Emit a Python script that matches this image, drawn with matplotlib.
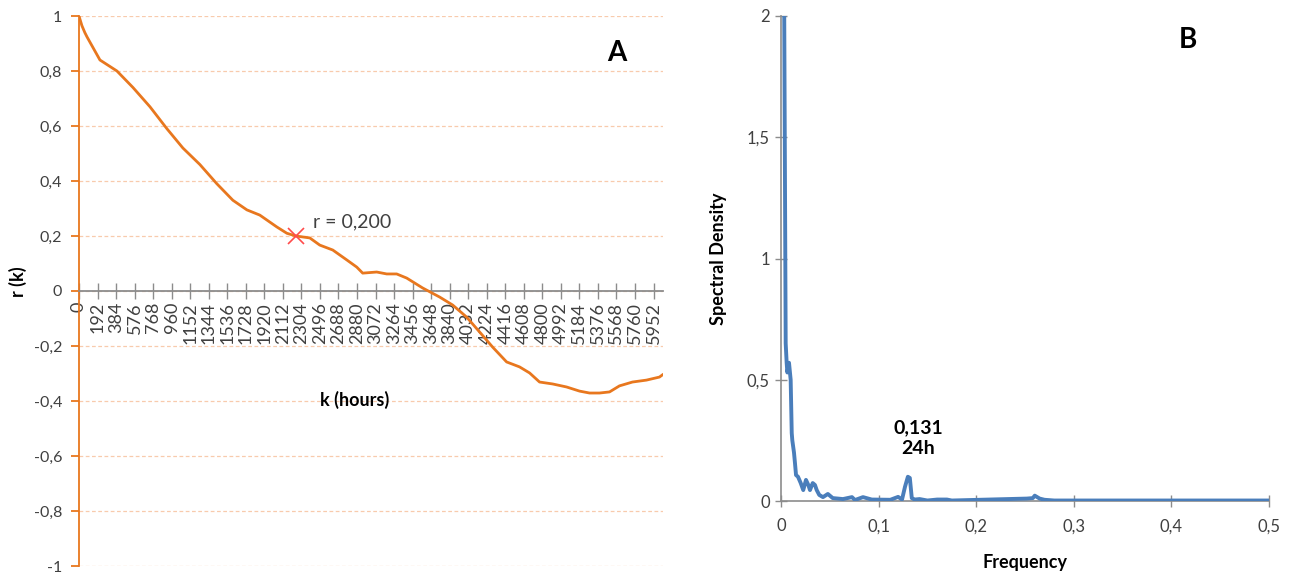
import matplotlib.pyplot as plt
from matplotlib.ticker import FuncFormatter

plt.rcParams["font.family"] = ["Lato", "DejaVu Sans"]

# panel A: autocorrelation r(k)
lag_hours = [0, 30, 60, 83, 217, 393, 559, 735, 911, 1076, 1252, 1428, 1594,
             1739, 1873, 2049, 2153, 2246, 2391, 2494, 2629, 2774, 2877, 2939,
             3084, 3188, 3291, 3395, 3560, 3736, 3871, 4016, 4150, 4285, 4430,
             4564, 4668, 4771, 4906, 5051, 5185, 5289, 5392, 5496, 5599, 5734,
             5879, 6013, 6044]
r_k = [1.0, 0.965, 0.94, 0.924, 0.84, 0.80, 0.74, 0.67, 0.59, 0.52, 0.46,
       0.39, 0.33, 0.295, 0.276, 0.233, 0.21, 0.20, 0.193, 0.167, 0.149, 0.113,
       0.087, 0.065, 0.069, 0.062, 0.062, 0.047, 0.011, -0.022, -0.051, -0.095,
       -0.149, -0.204, -0.258, -0.276, -0.298, -0.331, -0.338, -0.349, -0.364,
       -0.371, -0.371, -0.367, -0.345, -0.331, -0.324, -0.313, -0.305]
lag_ticks = list(range(0, 6000, 192))
r_ticks = [-1, -0.8, -0.6, -0.4, -0.2, 0, 0.2, 0.4, 0.6, 0.8, 1]
mark_k, mark_r = 2246, 0.200

# panel B: spectral density
freq = [0.001, 0.0031, 0.0048, 0.0058, 0.0065, 0.0082, 0.0099, 0.011, 0.0116,
        0.0133, 0.0143, 0.0154, 0.0174, 0.0202, 0.0228, 0.0256, 0.028, 0.0297,
        0.0325, 0.0348, 0.0366, 0.0392, 0.043, 0.048, 0.053, 0.0635, 0.0727,
        0.0758, 0.084, 0.093, 0.112, 0.12, 0.124, 0.127, 0.130, 0.132, 0.134,
        0.137, 0.142, 0.15, 0.16, 0.17, 0.175, 0.252, 0.258, 0.26, 0.265, 0.27,
        0.28, 0.5]
density = [3.0, 2.2, 0.65, 0.57, 0.53, 0.57, 0.50, 0.28, 0.25, 0.20, 0.157,
           0.107, 0.10, 0.074, 0.045, 0.087, 0.066, 0.045, 0.074, 0.066, 0.045,
           0.025, 0.016, 0.029, 0.012, 0.008, 0.016, 0.004, 0.016, 0.006, 0.005,
           0.017, 0.006, 0.058, 0.10, 0.095, 0.012, 0.006, 0.008, 0.002, 0.006,
           0.006, 0.002, 0.01, 0.012, 0.022, 0.01, 0.005, 0.002, 0.002]
freq_ticks = [0, 0.1, 0.2, 0.3, 0.4, 0.5]
dens_ticks = [0, 0.5, 1, 1.5, 2]

ORANGE = "#E8771E"
GRID = "#F8CBAD"
AXGRAY = "#8C8C8C"
BLUE = "#4A7EBB"


def comma(v, _pos=None):
    s = "{:g}".format(v)
    return s.replace(".", ",")


fig = plt.figure(figsize=(12.91, 5.73), dpi=100)

# ---- A ----
ax = fig.add_axes([79 / 1291, 7 / 573, 584 / 1291, 550 / 573])
ax.spines["top"].set_visible(False)
ax.spines["right"].set_visible(False)
ax.spines["left"].set_color(ORANGE)
ax.spines["left"].set_linewidth(1.3)
ax.spines["bottom"].set_position(("data", 0))
ax.spines["bottom"].set_color(AXGRAY)
ax.spines["bottom"].set_linewidth(1.3)
ax.set_xlim(0, 6050)
ax.set_ylim(-1, 1)
ax.set_yticks(r_ticks)
ax.yaxis.set_major_formatter(FuncFormatter(comma))
ax.set_xticks(lag_ticks)
ax.set_xticklabels([str(t) for t in lag_ticks], rotation=90, fontsize=13)
for y in r_ticks:
    ax.axhline(y, color=GRID, lw=0.9, ls=(0, (3, 2)), zorder=0)
ax.tick_params(axis="y", colors=ORANGE, length=6, width=1.3, labelsize=11.5,
               labelcolor="#404040", pad=6)
ax.tick_params(axis="x", colors=AXGRAY, direction="inout", length=12,
               width=1, labelcolor="#404040", pad=2)
ax.plot(lag_hours, r_k, color=ORANGE, lw=2.0, zorder=3)
ax.plot([mark_k], [mark_r], marker="x", color="#FF4B4B", ms=11, mew=1.2,
        zorder=4)
ax.text(2420, 0.25, "r = 0,200", fontsize=14, color="#404040", va="center")
ax.text(2860, -0.395, "k (hours)", fontsize=13, fontweight="bold",
        ha="center", va="center")
ax.text(5570, 0.865, "A", fontsize=20, fontweight="bold", ha="center",
        va="center")
fig.text(18 / 1291, 1 - 282 / 573, "r (k)", rotation=90, fontsize=13,
         fontweight="bold", ha="center", va="center")

# ---- B ----
bx = fig.add_axes([781 / 1291, 72 / 573, 488 / 1291, 485 / 573])
bx.set_xlim(0, 0.5)
bx.set_ylim(0, 2)
bx.set_xticks(freq_ticks)
bx.set_yticks(dens_ticks)
bx.xaxis.set_major_formatter(FuncFormatter(comma))
bx.yaxis.set_major_formatter(FuncFormatter(comma))
bx.spines["top"].set_visible(False)
bx.spines["right"].set_visible(False)
for s in ("left", "bottom"):
    bx.spines[s].set_color(AXGRAY)
    bx.spines[s].set_linewidth(1.2)
bx.tick_params(colors=AXGRAY, direction="inout", length=9, width=1,
               labelcolor="#404040", labelsize=12)
bx.tick_params(axis="x", pad=8)
bx.plot(freq, density, color=BLUE, lw=2.8, zorder=3, clip_on=True)
bx.text(0.141, 0.26, "0,131\n24h", fontsize=14, fontweight="bold",
        ha="center", va="center", linespacing=1.3)
bx.text(0.417, 1.9, "B", fontsize=20, fontweight="bold", ha="center",
        va="center")
bx.set_xlabel("Frequency", fontsize=13, fontweight="bold", labelpad=14)
bx.set_ylabel("Spectral Density", fontsize=13, fontweight="bold", labelpad=14)

fig.savefig("out.png", dpi=100)
